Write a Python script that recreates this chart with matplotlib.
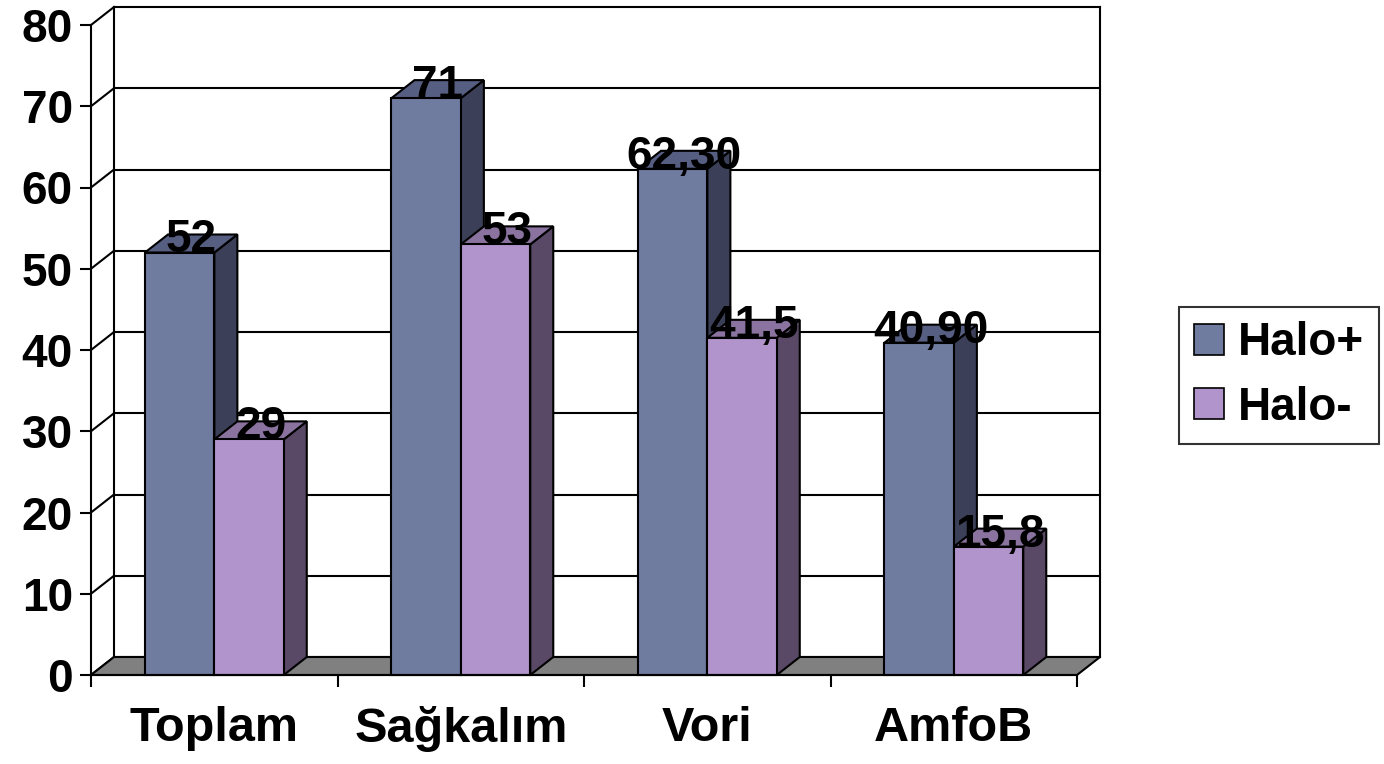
import matplotlib.pyplot as plt
from matplotlib.patches import Rectangle, Polygon, Patch

plt.rcParams['font.family'] = ['Liberation Sans', 'DejaVu Sans']
plt.rcParams['font.weight'] = 'bold'

categories = ['Toplam', 'Sağkalım', 'Vori', 'AmfoB']
series_names = ['Halo+', 'Halo-']
halo_pos_labels = ['52', '71', '62,30', '40,90']
halo_neg_labels = ['29', '53', '41,5', '15,8']
yticks = [0, 10, 20, 30, 40, 50, 60, 70, 80]

label_sets = [halo_pos_labels, halo_neg_labels]
values = [[float(s.replace(',', '.')) for s in labs] for labs in label_sets]

front_cols = ['#707BA0', '#B294CC']
side_cols = ['#3B4058', '#5A4966']
top_cols = ['#565E82', '#8B739F']

W, H = 1384, 764
fig = plt.figure(figsize=(W / 100, H / 100), dpi=100)
ax = fig.add_axes([91 / W, (H - 675) / H, 986 / W, 650 / H])
ax.set_xlim(0, 4)
ax.set_ylim(0, 80)

# depth of the 3d box in data units
dx = 23 / 246.5
dy = 18 / 8.125
lw = 1.5

# floor
ax.add_patch(Polygon([(0, 0), (4, 0), (4 + dx, dy), (dx, dy)], closed=True,
                     facecolor='#808080', edgecolor='black', lw=lw,
                     clip_on=False, zorder=1))
# back wall grid and side diagonals
for v in yticks:
    ax.plot([dx, 4 + dx], [v + dy, v + dy], color='black', lw=lw,
            clip_on=False, zorder=0.5)
    ax.plot([0, dx], [v, v + dy], color='black', lw=lw, clip_on=False, zorder=0.5)
for xb in (dx, 4 + dx):
    ax.plot([xb, xb], [dy, 80 + dy], color='black', lw=lw, clip_on=False, zorder=0.5)

bw = 0.2815
start = 0.219
for i in range(len(categories)):
    for s in range(2):
        left = i + start + s * bw
        h = values[s][i]
        z = 2 + i * 2 + s
        ax.add_patch(Polygon([(left + bw, 0), (left + bw + dx, dy),
                              (left + bw + dx, h + dy), (left + bw, h)],
                             closed=True, facecolor=side_cols[s], edgecolor='black',
                             lw=lw, clip_on=False, zorder=z))
        ax.add_patch(Polygon([(left, h), (left + bw, h), (left + bw + dx, h + dy),
                              (left + dx, h + dy)], closed=True,
                             facecolor=top_cols[s], edgecolor='black', lw=lw,
                             clip_on=False, zorder=z))
        ax.add_patch(Rectangle((left, 0), bw, h, facecolor=front_cols[s],
                               edgecolor='black', lw=lw, clip_on=False, zorder=z))
        ax.text(left + bw / 2 + dx / 2, h, label_sets[s][i], ha='center',
                va='baseline', fontsize=33, fontweight='bold', zorder=20)

for side in ('top', 'right'):
    ax.spines[side].set_visible(False)
for side in ('left', 'bottom'):
    ax.spines[side].set_linewidth(lw)
    ax.spines[side].set_zorder(15)

ax.set_yticks(yticks)
ax.set_yticklabels([str(v) for v in yticks], fontsize=33, fontweight='bold')
ax.tick_params(axis='y', length=8, width=lw, pad=5)

ax.set_xticks([0, 1, 2, 3, 4])
ax.set_xticklabels([])
ax.set_xticks([i + 0.5 for i in range(4)], minor=True)
ax.set_xticklabels(categories, minor=True, fontsize=35, fontweight='bold')
ax.tick_params(axis='x', which='major', length=8.6, width=lw)
ax.tick_params(axis='x', which='minor', length=0, pad=22)

handles = [Patch(facecolor=front_cols[s], edgecolor='black', lw=1.2) for s in range(2)]
leg = fig.legend(handles, series_names, loc='center',
                 bbox_to_anchor=((1178 + 1380) / 2 / W, 1 - (306 + 445) / 2 / H),
                 prop={'size': 33, 'weight': 'bold'}, frameon=True, fancybox=False,
                 handlelength=0.67, handleheight=0.67, handletextpad=0.3,
                 labelspacing=0.45, borderpad=0.32, borderaxespad=0)
leg.get_frame().set_edgecolor('black')
leg.get_frame().set_linewidth(lw)

fig.savefig('out.png', dpi=100)
